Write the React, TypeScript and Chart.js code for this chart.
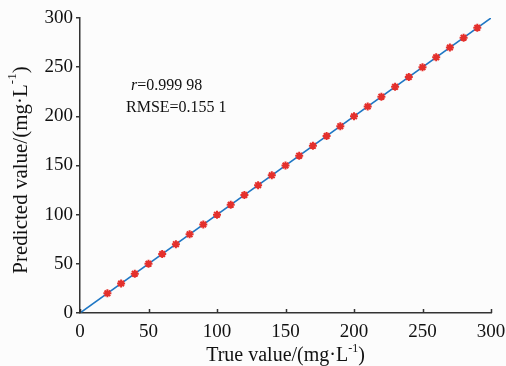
import React, { useEffect, useRef } from "react";
import { Chart, registerables } from "chart.js";

Chart.register(...registerables);

const trueValues = [20, 30, 40, 50, 60, 70, 80, 90, 100, 110, 120, 130, 140, 150, 160, 170, 180, 190, 200, 210, 220, 230, 240, 250, 260, 270, 280, 290];
const predictedValues = [20, 30, 40, 50, 60, 70, 80, 90, 100, 110, 120, 130, 140, 150, 160, 170, 180, 190, 200, 210, 220, 230, 240, 250, 260, 270, 280, 290];
const fitLineX = [0, 300];
const fitLineY = [0, 300];
const tickValues = [0, 50, 100, 150, 200, 250, 300];
const xTitle = ["True value/(mg·L", "-1", ")"];
const yTitle = ["Predicted value/(mg·L", "-1", ")"];
const statR = ["r", "=0.999 98"];
const statRmse = "RMSE=0.155 1";

const FONT = '"Liberation Serif", "Times New Roman", serif';
const AXIS_COLOR = "#333333";

function drawSupText(ctx: CanvasRenderingContext2D, parts: string[], cx: number, cy: number, size: number) {
  const big = `${size}px ${FONT}`;
  const small = `${Math.round(size * 0.62)}px ${FONT}`;
  ctx.font = big;
  const w0 = ctx.measureText(parts[0]).width;
  const w2 = ctx.measureText(parts[2]).width;
  ctx.font = small;
  const w1 = ctx.measureText(parts[1]).width;
  const total = w0 + w1 + w2;
  let x = cx - total / 2;
  ctx.textBaseline = "middle";
  ctx.textAlign = "left";
  ctx.font = big;
  ctx.fillText(parts[0], x, cy);
  x += w0;
  ctx.font = small;
  ctx.fillText(parts[1], x, cy - size * 0.38);
  x += w1;
  ctx.font = big;
  ctx.fillText(parts[2], x, cy);
}

const customPlugin = {
  id: "custom",
  beforeDraw(chart: any) {
    const ctx = chart.ctx;
    ctx.save();
    ctx.fillStyle = "#fcfcfc";
    ctx.fillRect(0, 0, chart.width, chart.height);
    ctx.restore();
  },
  afterDraw(chart: any) {
    const ctx = chart.ctx;
    const xs = chart.scales.x;
    const area = chart.chartArea;
    ctx.save();
    ctx.strokeStyle = AXIS_COLOR;
    ctx.lineWidth = 1.5;
    for (const v of tickValues) {
      const px = Math.round(xs.getPixelForValue(v)) + 0.5;
      ctx.beginPath();
      ctx.moveTo(px, area.bottom);
      ctx.lineTo(px, area.bottom - 4);
      ctx.stroke();
    }
    ctx.fillStyle = "#111111";
    drawSupText(ctx, xTitle, (area.left + area.right) / 2, 356, 20);
    ctx.save();
    ctx.translate(21, 170);
    ctx.rotate(-Math.PI / 2);
    drawSupText(ctx, yTitle, 0, 0, 21);
    ctx.restore();
    ctx.textBaseline = "middle";
    ctx.textAlign = "left";
    ctx.font = `italic 16px ${FONT}`;
    ctx.fillText(statR[0], 131, 86);
    const rw = ctx.measureText(statR[0]).width;
    ctx.font = `16px ${FONT}`;
    ctx.fillText(statR[1], 131 + rw, 86);
    ctx.fillText(statRmse, 126, 108);
    ctx.restore();
  },
};

export default function App() {
  const ref = useRef<HTMLCanvasElement>(null);
  useEffect(() => {
    document.body.style.margin = "0";
    const canvas = ref.current!;
    const chart = new Chart(canvas, {
      type: "scatter",
      data: {
        datasets: [
          {
            type: "line",
            data: fitLineX.map((x, i) => ({ x, y: fitLineY[i] })),
            borderColor: "#1f77c4",
            borderWidth: 1.6,
            pointRadius: 0,
            fill: false,
            order: 2,
          } as any,
          {
            type: "scatter",
            data: trueValues.map((x, i) => ({ x, y: predictedValues[i] })),
            pointStyle: "star",
            pointRadius: 4,
            borderColor: "#e4302c",
            backgroundColor: "#e4302c",
            borderWidth: 2,
            order: 1,
          },
        ],
      },
      options: {
        animation: false,
        responsive: false,
        devicePixelRatio: 1,
        layout: { padding: { left: 0, right: 15, top: 18, bottom: 0 } },
        plugins: { legend: { display: false }, tooltip: { enabled: false } },
        scales: {
          x: {
            type: "linear",
            min: 0,
            max: 300,
            afterBuildTicks: (s: any) => { s.ticks = tickValues.map((v) => ({ value: v })); },
            afterFit: (s: any) => { s.height = 53; s.paddingRight = 0; s.paddingLeft = 0; },
            grid: { display: true, drawOnChartArea: false, drawTicks: false },
            border: { display: true, color: AXIS_COLOR, width: 1.5 },
            ticks: { color: "#111111", font: { family: FONT, size: 19 }, padding: 8, maxRotation: 0 },
          },
          y: {
            type: "linear",
            min: 0,
            max: 300,
            afterBuildTicks: (s: any) => { s.ticks = tickValues.map((v) => ({ value: v })); },
            afterFit: (s: any) => { s.width = 80; s.paddingTop = 0; s.paddingBottom = 0; },
            grid: { display: true, drawOnChartArea: false, drawTicks: true, tickLength: 4, color: AXIS_COLOR, lineWidth: 1.5 },
            border: { display: true, color: AXIS_COLOR, width: 1.5 },
            ticks: { color: "#111111", font: { family: FONT, size: 19 }, padding: 3 },
          },
        },
      },
      plugins: [customPlugin],
    });
    return () => chart.destroy();
  }, []);
  return (
    <div style={{ position: "absolute", left: 0, top: 0, width: 506, height: 366 }}>
      <canvas ref={ref} width={506} height={366} style={{ width: 506, height: 366 }} />
    </div>
  );
}
